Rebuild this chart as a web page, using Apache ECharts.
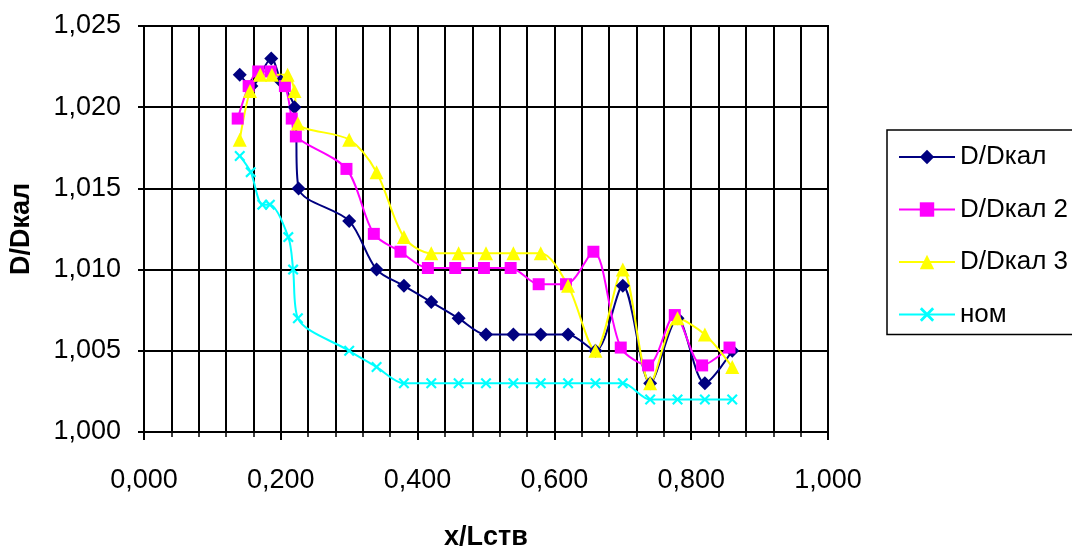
<!DOCTYPE html>
<html>
<head>
<meta charset="utf-8">
<script src="https://cdn.jsdelivr.net/npm/echarts@6/dist/echarts.min.js"></script>
<style>html,body{margin:0;padding:0;background:#fff}#c{width:1072px;height:556px}</style>
</head>
<body>
<div id="c"></div>
<script>
const seriesNames = ['D/Dкал', 'D/Dкал 2', 'D/Dкал 3', 'ном'];
const xBlue = [0.14, 0.157, 0.186, 0.2, 0.22, 0.226, 0.30, 0.34, 0.38, 0.42, 0.46, 0.50, 0.54, 0.58, 0.62, 0.66, 0.70, 0.74, 0.78, 0.82, 0.86];
const yBlue = [1.022, 1.0213, 1.023, 1.0216, 1.020, 1.015, 1.013, 1.010, 1.009, 1.008, 1.007, 1.006, 1.006, 1.006, 1.006, 1.005, 1.009, 1.003, 1.007, 1.003, 1.005];
const xMagenta = [0.137, 0.153, 0.167, 0.185, 0.206, 0.216, 0.222, 0.296, 0.336, 0.375, 0.415, 0.455, 0.497, 0.536, 0.577, 0.617, 0.657, 0.697, 0.737, 0.776, 0.816, 0.856];
const yMagenta = [1.0193, 1.0213, 1.0222, 1.0222, 1.0213, 1.0193, 1.0182, 1.0162, 1.0122, 1.0111, 1.0101, 1.0101, 1.0101, 1.0101, 1.0091, 1.0091, 1.0111, 1.0052, 1.0041, 1.0072, 1.0041, 1.0052];
const xYellow = [0.14, 0.155, 0.17, 0.187, 0.21, 0.22, 0.225, 0.30, 0.34, 0.38, 0.42, 0.46, 0.50, 0.54, 0.58, 0.62, 0.66, 0.70, 0.74, 0.78, 0.82, 0.86];
const yYellow = [1.018, 1.021, 1.022, 1.022, 1.022, 1.021, 1.019, 1.018, 1.016, 1.012, 1.011, 1.011, 1.011, 1.011, 1.011, 1.009, 1.005, 1.010, 1.003, 1.007, 1.006, 1.004];
const xCyan = [0.14, 0.156, 0.173, 0.184, 0.211, 0.218, 0.225, 0.30, 0.34, 0.38, 0.42, 0.46, 0.50, 0.54, 0.58, 0.62, 0.66, 0.70, 0.74, 0.78, 0.82, 0.86];
const yCyan = [1.017, 1.016, 1.014, 1.014, 1.012, 1.010, 1.007, 1.005, 1.004, 1.003, 1.003, 1.003, 1.003, 1.003, 1.003, 1.003, 1.003, 1.003, 1.002, 1.002, 1.002, 1.002];
const xAxisTitle = 'x/Lств';
const yAxisTitle = 'D/Dкал';

const zip = (xs, ys) => xs.map((x, i) => [x, ys[i]]);
const fmt = v => v.toFixed(3).replace('.', ',');
const FONT = 'Liberation Sans, Arial, sans-serif';
const xSym = 'path://M0,1.4L1.4,0L5,3.6L8.6,0L10,1.4L6.4,5L10,8.6L8.6,10L5,6.4L1.4,10L0,8.6L3.6,5Z';

const mk = (name, data, color, symbol, size) => ({
  name, type: 'line', data, smooth: 0.3,
  symbol, symbolSize: size,
  lineStyle: { color, width: 2 },
  itemStyle: { color },
  emphasis: { disabled: true },
  animation: false
});

const chart = echarts.init(document.getElementById('c'));
chart.setOption({
  backgroundColor: '#fff',
  animation: false,
  textStyle: { fontFamily: FONT },
  grid: { left: 142, right: 244, top: 26, bottom: 118, show: true, borderColor: '#000', borderWidth: 2, backgroundColor: '#fff' },
  xAxis: {
    type: 'value', min: 0, max: 1, interval: 0.2,
    name: xAxisTitle, nameLocation: 'middle', nameGap: 92,
    nameTextStyle: { fontSize: 27, fontWeight: 'bold', color: '#000', fontFamily: FONT },
    axisLine: { show: true, lineStyle: { color: '#000', width: 2 } },
    axisTick: { show: true, length: 8, lineStyle: { color: '#000', width: 2 } },
    minorTick: { show: true, splitNumber: 5, length: 5, lineStyle: { color: '#000', width: 1.5 } },
    splitLine: { show: true, lineStyle: { color: '#000', width: 2 } },
    minorSplitLine: { show: true, lineStyle: { color: '#000', width: 2 } },
    axisLabel: { formatter: fmt, fontSize: 27, color: '#000', margin: 35, fontFamily: FONT }
  },
  yAxis: {
    type: 'value', min: 1, max: 1.025, interval: 0.005,
    name: yAxisTitle, nameLocation: 'middle', nameGap: 109, nameRotate: 90,
    nameTextStyle: { fontSize: 27, fontWeight: 'bold', color: '#000', fontFamily: FONT },
    axisLine: { show: true, lineStyle: { color: '#000', width: 2 } },
    axisTick: { show: true, length: 6, lineStyle: { color: '#000', width: 2 } },
    splitLine: { show: true, lineStyle: { color: '#000', width: 2 } },
    axisLabel: { formatter: fmt, fontSize: 27, color: '#000', margin: 23, fontFamily: FONT }
  },
  legend: {
    orient: 'vertical', left: 887, top: 130,
    padding: [14, 60, 7, 11],
    borderColor: '#000', borderWidth: 1.5, backgroundColor: '#fff',
    itemWidth: 56, itemHeight: 18, itemGap: 26.5,
    textStyle: { fontSize: 26, color: '#000', fontFamily: FONT },
    data: seriesNames
  },
  series: [
    mk(seriesNames[0], zip(xBlue, yBlue), '#000080', 'diamond', 14),
    mk(seriesNames[1], zip(xMagenta, yMagenta), '#FF00FF', 'rect', 12),
    mk(seriesNames[2], zip(xYellow, yYellow), '#FFFF00', 'triangle', 14),
    mk(seriesNames[3], zip(xCyan, yCyan), '#00FFFF', xSym, 11)
  ]
});
</script>
</body>
</html>
